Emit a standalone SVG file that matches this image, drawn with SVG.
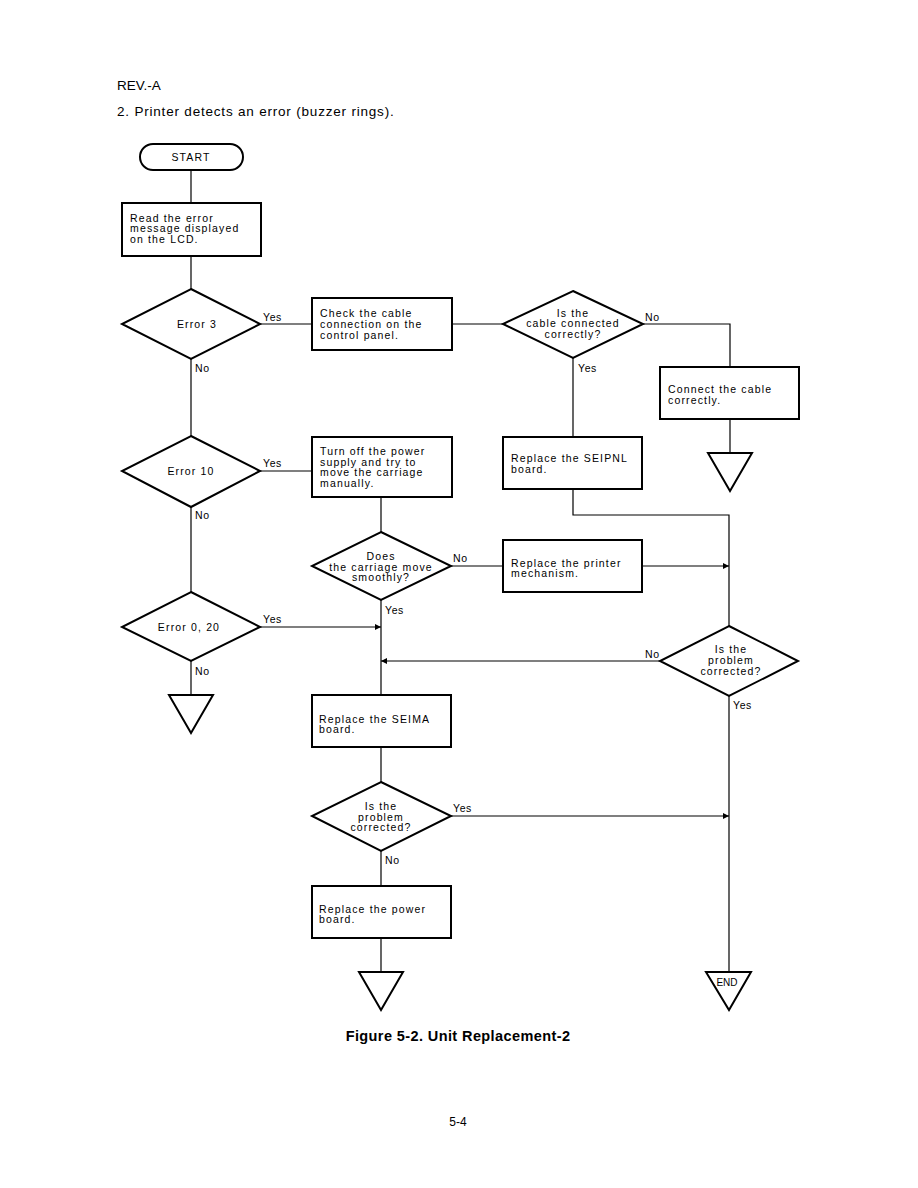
<svg xmlns="http://www.w3.org/2000/svg" width="918" height="1188" viewBox="0 0 918 1188">
<defs>
<marker id="ah" viewBox="0 0 10 10" refX="10" refY="5" markerWidth="8" markerHeight="6" markerUnits="userSpaceOnUse" orient="auto">
<path d="M0,0 L10,5 L0,10 z" fill="#000"/>
</marker>
<style>
.s{fill:#fff;stroke:#000;stroke-width:2}
.c{fill:none;stroke:#000;stroke-width:1.2}
.t{font-family:"Liberation Sans",Arial,sans-serif;font-size:10.5px;letter-spacing:1.15px;fill:#000}
.m{text-anchor:middle}
.l{font-family:"Liberation Sans",Arial,sans-serif;font-size:10.5px;letter-spacing:0.6px;fill:#000}
.h{font-family:"Liberation Sans",Arial,sans-serif;font-size:13.5px;fill:#000}
</style>
</defs>
<rect width="918" height="1188" fill="#fff"/>
<text class="h" x="117" y="90">REV.-A</text>
<text class="h" x="117" y="116" letter-spacing="0.8">2. Printer detects an error (buzzer rings).</text>

<g id="connectors">
<path class="c" d="M191,170 V203"/>
<path class="c" d="M191,256 V289"/>
<path class="c" d="M260,324 H312"/>
<path class="c" d="M452,324 H503"/>
<path class="c" d="M643,324 H730 V367"/>
<path class="c" d="M730,419 V453"/>
<path class="c" d="M573,358 V437"/>
<path class="c" d="M573,489 V515 H729 V626"/>
<path class="c" d="M191,359 V436"/>
<path class="c" d="M260,471 H312"/>
<path class="c" d="M381,497 V532"/>
<path class="c" d="M451,566 H503"/>
<path class="c" d="M642,566 H729" marker-end="url(#ah)"/>
<path class="c" d="M381,600 V695"/>
<path class="c" d="M191,507 V592"/>
<path class="c" d="M260,627 H381" marker-end="url(#ah)"/>
<path class="c" d="M191,661 V695"/>
<path class="c" d="M660,661 H381" marker-end="url(#ah)"/>
<path class="c" d="M729,696 V972"/>
<path class="c" d="M381,747 V782"/>
<path class="c" d="M451,816 H729" marker-end="url(#ah)"/>
<path class="c" d="M381,851 V886"/>
<path class="c" d="M381,938 V972"/>
<text class="l" x="263" y="321">Yes</text>
<text class="l" x="645" y="321">No</text>
<text class="l" x="578" y="372">Yes</text>
<text class="l" x="195" y="372">No</text>
<text class="l" x="263" y="467">Yes</text>
<text class="l" x="195" y="519">No</text>
<text class="l" x="453" y="562">No</text>
<text class="l" x="385" y="614">Yes</text>
<text class="l" x="263" y="623">Yes</text>
<text class="l" x="195" y="675">No</text>
<text class="l" x="645" y="658">No</text>
<text class="l" x="733" y="709">Yes</text>
<text class="l" x="453" y="812">Yes</text>
<text class="l" x="385" y="864">No</text>
</g>

<g id="start"><rect class="s" x="140" y="144" width="103" height="26" rx="13"/><text class="t m" x="191" y="161">START</text></g>
<g id="read"><rect class="s" x="122" y="203" width="139" height="53"/><text class="t" x="130" y="222">Read the error</text><text class="t" x="130" y="232">message displayed</text><text class="t" x="130" y="243">on the LCD.</text></g>
<g id="err3"><polygon class="s" points="191,289 260,324 191,359 122,324"/><text class="t m" x="197" y="328">Error 3</text></g>
<g id="check"><rect class="s" x="312" y="298" width="140" height="52"/><text class="t" x="320" y="317">Check the cable</text><text class="t" x="320" y="328">connection on the</text><text class="t" x="320" y="339">control panel.</text></g>
<g id="cableok"><polygon class="s" points="573,291 643,324 573,358 503,324"/><text class="t m" x="573" y="317">Is the</text><text class="t m" x="573" y="327">cable connected</text><text class="t m" x="573" y="338">correctly?</text></g>
<g id="connect"><rect class="s" x="660" y="367" width="139" height="52"/><text class="t" x="668" y="393">Connect the cable</text><text class="t" x="668" y="404">correctly.</text></g>
<g id="term1"><polygon class="s" points="708,453 752,453 730,491"/></g>
<g id="seipnl"><rect class="s" x="503" y="437" width="139" height="52"/><text class="t" x="511" y="462">Replace the SEIPNL</text><text class="t" x="511" y="473">board.</text></g>
<g id="err10"><polygon class="s" points="191,436 260,471 191,507 122,471"/><text class="t m" x="191" y="475">Error 10</text></g>
<g id="turnoff"><rect class="s" x="312" y="437" width="140" height="60"/><text class="t" x="320" y="455">Turn off the power</text><text class="t" x="320" y="466">supply and try to</text><text class="t" x="320" y="476">move the carriage</text><text class="t" x="320" y="487">manually.</text></g>
<g id="smooth"><polygon class="s" points="381,532 451,566 381,600 312,566"/><text class="t m" x="381" y="560">Does</text><text class="t m" x="381" y="571">the carriage move</text><text class="t m" x="381" y="581">smoothly?</text></g>
<g id="printer"><rect class="s" x="503" y="540" width="139" height="52"/><text class="t" x="511" y="567">Replace the printer</text><text class="t" x="511" y="577">mechanism.</text></g>
<g id="err020"><polygon class="s" points="191,592 260,627 191,661 122,627"/><text class="t m" x="189" y="631">Error 0, 20</text></g>
<g id="term2"><polygon class="s" points="169,695 213,695 191,733"/></g>
<g id="fixed1"><polygon class="s" points="729,626 798,661 729,696 660,661"/><text class="t m" x="731" y="653">Is the</text><text class="t m" x="731" y="664">problem</text><text class="t m" x="731" y="675">corrected?</text></g>
<g id="seima"><rect class="s" x="312" y="695" width="139" height="52"/><text class="t" x="319" y="723">Replace the SEIMA</text><text class="t" x="319" y="733">board.</text></g>
<g id="fixed2"><polygon class="s" points="381,782 451,816 381,851 312,816"/><text class="t m" x="381" y="810">Is the</text><text class="t m" x="381" y="821">problem</text><text class="t m" x="381" y="831">corrected?</text></g>
<g id="power"><rect class="s" x="312" y="886" width="139" height="52"/><text class="t" x="319" y="913">Replace the power</text><text class="t" x="319" y="923">board.</text></g>
<g id="term3"><polygon class="s" points="359,972 403,972 381,1010"/></g>
<g id="end"><polygon class="s" points="706,972 751,972 729,1010"/><text x="727" y="986" text-anchor="middle" font-family="Liberation Sans, Arial, sans-serif" font-size="10px">END</text></g>

<text x="458" y="1041" text-anchor="middle" font-family="Liberation Sans, Arial, sans-serif" font-size="14.5px" font-weight="bold" letter-spacing="0.4">Figure 5-2. Unit Replacement-2</text>
<text x="458" y="1126" text-anchor="middle" font-family="Liberation Sans, Arial, sans-serif" font-size="12px">5-4</text>
</svg>
